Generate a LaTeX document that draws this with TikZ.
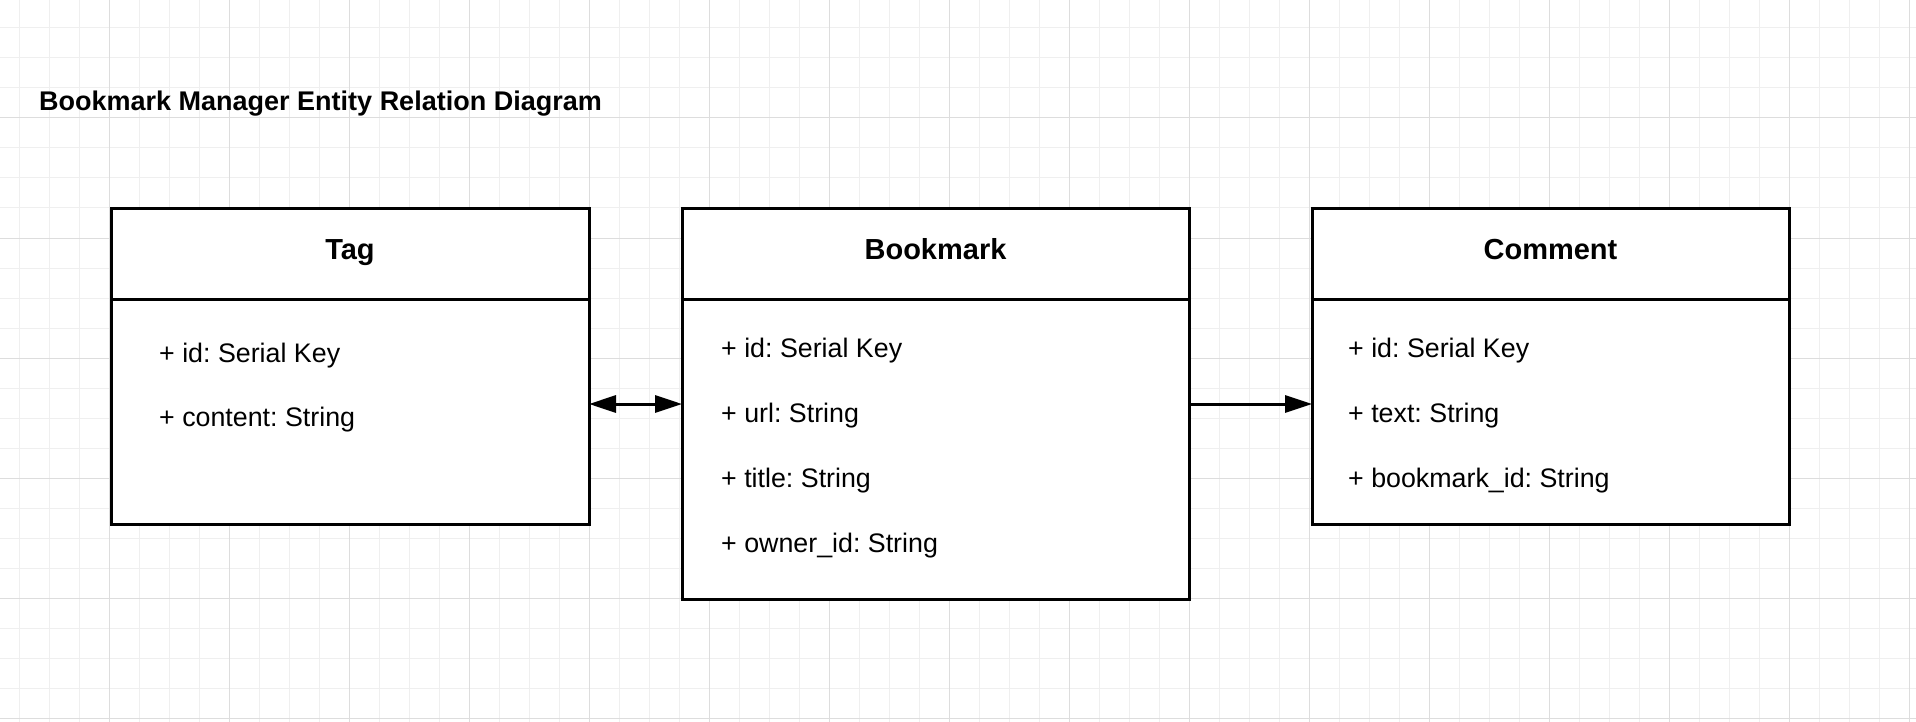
\documentclass[tikz,border=0pt]{standalone}
\usepackage{fontspec}
\setmainfont{Liberation Sans}
\usepackage{xcolor}
\usetikzlibrary{arrows.meta,positioning}
\definecolor{gridminor}{HTML}{EFEFEF}
\definecolor{gridmajor}{HTML}{DDDDDD}
\frenchspacing

\begin{document}
\begin{tikzpicture}[
  x=1pt,y=-1pt,
  >={Triangle[length=27pt,width=17pt]},
  entity/.style={draw=black,line width=3pt,fill=white,minimum width=478pt,minimum height=315pt,inner sep=0pt,outer sep=0pt},
  head/.style={font=\fontsize{29}{35}\selectfont\bfseries,anchor=base,inner sep=0pt},
  attr/.style={font=\fontsize{26.8}{32}\selectfont,anchor=base west,inner sep=0pt},
  arrow/.style={line width=3pt,draw=black}
]
\fill[white] (0,0) rectangle (1916,722);
\useasboundingbox (0,0) rectangle (1916,722);
% grid
\foreach \x in {19,49,...,1909} \draw[gridminor,line width=1pt] (\x,0) -- (\x,722);
\foreach \y in {28,58,...,718} \draw[gridminor,line width=1pt] (0,\y) -- (1916,\y);
\foreach \x in {109,229,...,1909} \draw[gridmajor,line width=1pt] (\x,0) -- (\x,722);
\foreach \y in {118,238,...,718} \draw[gridmajor,line width=1pt] (0,\y) -- (1916,\y);

\node[font=\fontsize{27}{32}\selectfont\bfseries,anchor=base west,inner sep=0pt] (title) at (39,111) {Bookmark Manager Entity Relation Diagram};

% entities
\node[entity] (tag) at (350,366.5) {};
\node[entity,minimum width=507pt,minimum height=390pt,right=93pt of tag.north east,anchor=north west] (bookmark) {};
\node[entity,minimum width=477pt,right=123pt of bookmark.north east,anchor=north west] (comment) {};

\foreach \e in {tag,bookmark,comment}
  \draw[line width=3pt] ([yshift=-90pt]\e.north west) -- ([yshift=-90pt]\e.north east);

\node[head] (taghead) at ([yshift=-50pt]tag.north) {Tag};
\node[head] (bookmarkhead) at ([yshift=-50pt]bookmark.north) {Bookmark};
\node[head] (commenthead) at ([yshift=-50pt]comment.north) {Comment};

% attributes
\node[attr] (tagid) at ([xshift=48pt,yshift=-153pt]tag.north west) {+ id: Serial Key};
\node[attr] (tagcontent) at ([yshift=-64.5pt]tagid.base west) {+ content: String};

\node[attr] (bmid) at ([xshift=39pt,yshift=-148pt]bookmark.north west) {+ id: Serial Key};
\node[attr] (bmurl) at ([yshift=-65pt]bmid.base west) {+ url: String};
\node[attr] (bmtitle) at ([yshift=-65pt]bmurl.base west) {+ title: String};
\node[attr] (bmowner) at ([yshift=-65pt]bmtitle.base west) {+ owner\_id: String};

\node[attr] (cmid) at ([xshift=36pt,yshift=-148pt]comment.north west) {+ id: Serial Key};
\node[attr] (cmtext) at ([yshift=-65pt]cmid.base west) {+ text: String};
\node[attr] (cmbm) at ([yshift=-65pt]cmtext.base west) {+ bookmark\_id: String};

% relations
\draw[arrow,<->] (bookmark.west -| tag.east) -- (bookmark.west);
\draw[arrow,->] (bookmark.east) -- (bookmark.east -| comment.west);
\end{tikzpicture}
\end{document}
